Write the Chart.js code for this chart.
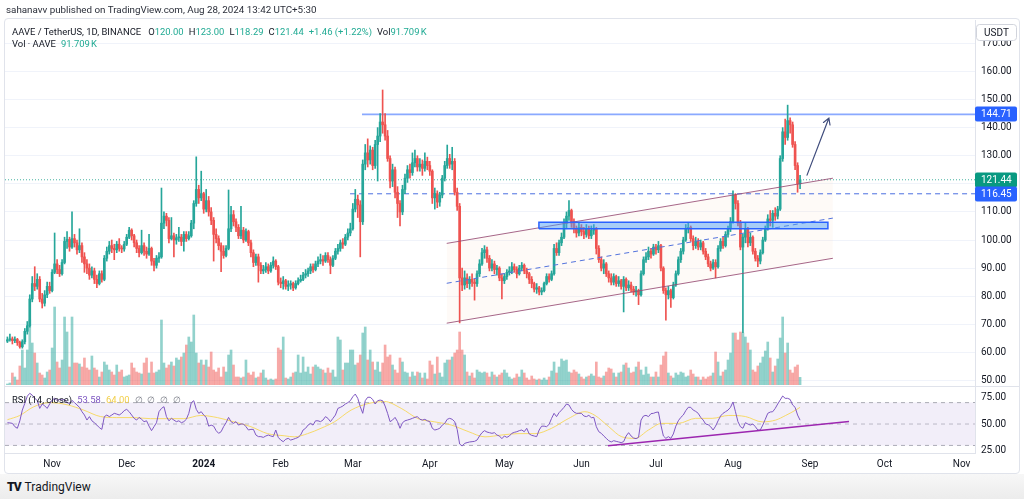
<!DOCTYPE html>
<html>
<head>
<meta charset="utf-8">
<script src="https://cdn.jsdelivr.net/npm/chart.js@4.4.0/dist/chart.umd.min.js"></script>
<style>
  html, body { margin: 0; padding: 0; background: #fff; width: 1024px; height: 499px; overflow: hidden; }
  body { font-family: "Roboto", "Liberation Sans", sans-serif; color: #131722; position: relative; }
  #frame { position: absolute; left: 4px; top: 18px; width: 1016px; height: 456px; border: 1px solid #e0e3eb; border-radius: 4px; box-sizing: border-box; }
  #sep { position: absolute; left: 4px; top: 386px; width: 1016px; height: 1px; background: #e0e3eb; }
  canvas { position: absolute; left: 0; }
  #priceCanvas { top: 0; }
  #rsiCanvas { top: 386px; }
  .t { position: absolute; white-space: nowrap; font-size: 9.45px; line-height: 13px; }
  .v { color: #22ab94; }
  .g { display: inline-block; width: 5px; }
  #footer { position: absolute; left: 0; top: 474px; width: 1024px; height: 25px; background: linear-gradient(#f7f7f7, #ececec); }
  #logo { position: absolute; left: 7px; top: 6px; font-size: 12px; color: #131722; white-space: nowrap; }
  #logo b { font-weight: 900; letter-spacing: -1px; margin-right: 4px; }
</style>
</head>
<body>
<div id="frame"></div>
<canvas id="priceCanvas" width="1024" height="386"></canvas>
<canvas id="rsiCanvas" width="1024" height="87"></canvas>
<div id="sep"></div>

<div class="t" style="left:6px;top:3px;color:#2a2e39;font-size:9.8px">sahanavv published on TradingView.com, Aug 28, 2024 13:42 UTC+5:30</div>
<div class="t" style="left:12px;top:25px">AAVE / TetherUS, 1D, BINANCE<span class="g" style="width:7px"></span>O<span class="v">120.00</span><span class="g"></span>H<span class="v">123.00</span><span class="g"></span>L<span class="v">118.29</span><span class="g"></span>C<span class="v">121.44</span><span class="g"></span><span class="v">+1.46 (+1.22%)</span><span class="g"></span>Vol<span class="v">91.709&#8239;K</span></div>
<div class="t" style="left:12px;top:37px">Vol · AAVE<span class="g"></span><span class="v">91.709&#8239;K</span></div>
<div class="t" style="left:12px;top:393px">RSI (14, close)<span class="g"></span><span style="color:#7e57c2">53.58</span><span class="g"></span><span style="color:#f2cf4a">64.00</span><span class="g"></span><span style="color:#787b86">∅&nbsp;&nbsp;∅&nbsp;&nbsp;∅&nbsp;&nbsp;∅</span></div>

<div id="footer"><div id="logo"><b>TV</b>TradingView</div></div>

<script>
// AAVE/USDT daily candles, first candle on 14 Oct 2023, last on 28 Aug 2024
const startDate = '2023-10-14';
const firstOpen = 64.0;

const closes = [
  64.5, 64.8, 64.2, 64.6, 63.5, 62.0, 63.8, 67.5, 69.5, 79.0,          // 0
  84.5, 83.5, 86.0, 79.0, 77.5, 80.5, 83.5, 82.0, 88.5, 91.5,          // 10
  89.5, 88.0, 92.0, 99.5, 100.2, 97.5, 100.5, 99.0, 96.5, 98.0,        // 20
  94.0, 91.5, 90.0, 87.5, 89.0, 86.0, 84.5, 88.0, 86.0, 93.5,          // 30
  96.0, 98.0, 97.0, 96.5, 98.5, 97.0, 96.8, 98.5, 101.0, 103.5,        // 40
  101.5, 99.0, 97.0, 95.5, 98.0, 96.0, 95.0, 97.0, 92.5, 91.0,         // 50
  93.5, 94.0, 106.0, 108.5, 107.0, 100.5, 101.5, 100.0, 100.8, 101.0,  // 60
  99.5, 102.0, 100.5, 101.5, 106.0, 113.0, 118.0, 115.0, 116.5, 111.0, // 70
  114.0, 110.0, 107.0, 102.0, 100.5, 98.0, 96.0, 94.5, 97.0, 104.0,    // 80
  109.0, 106.5, 104.5, 101.5, 103.5, 100.0, 103.0, 99.0, 95.5, 92.0,   // 90
  94.0, 91.0, 89.0, 89.5, 90.5, 89.0, 91.0, 92.5, 90.5, 85.0,          // 100
  84.5, 85.5, 83.5, 84.0, 84.5, 83.0, 84.5, 85.5, 86.0, 87.5,          // 110
  88.0, 89.0, 90.5, 89.5, 91.5, 92.5, 93.0, 92.5, 94.5, 93.0,          // 120
  91.0, 93.5, 96.0, 97.0, 99.0, 98.5, 101.0, 102.5, 104.0, 111.0,      // 130
  114.5, 112.5, 106.5, 127.0, 131.0, 128.5, 132.0, 126.5, 134.0, 137.0,// 140
  142.0, 141.0, 137.0, 129.0, 121.0, 125.0, 117.0, 113.0, 110.0, 118.0,// 150
  122.0, 125.0, 124.0, 127.5, 129.0, 126.0, 127.0, 125.5, 128.0, 126.5,// 160
  124.5, 115.0, 116.5, 113.5, 116.0, 122.0, 126.5, 129.0, 127.0, 128.0,// 170
  117.0, 112.0, 86.5, 84.0, 86.5, 84.5, 86.0, 85.0, 84.5, 88.0,        // 180
  91.5, 95.5, 96.5, 93.5, 90.0, 91.5, 89.5, 90.0, 86.5, 85.5,          // 190
  87.0, 88.5, 89.0, 90.5, 89.5, 88.0, 90.0, 91.0, 89.0, 88.0,          // 200
  86.0, 84.5, 82.5, 83.0, 81.5, 82.0, 84.5, 87.0, 86.0, 88.0,          // 210
  97.0, 95.5, 99.0, 101.0, 106.0, 108.5, 110.5, 106.0, 104.0, 102.5,   // 220
  104.5, 103.0, 102.0, 104.0, 101.5, 103.5, 104.0, 97.0, 93.0, 90.0,   // 230
  91.5, 88.0, 86.5, 85.0, 87.0, 84.5, 85.5, 83.5, 86.0, 83.0,          // 240
  84.0, 82.5, 81.5, 82.0, 80.5, 88.0, 93.0, 94.0, 96.0, 95.0,          // 250
  97.5, 96.5, 98.0, 90.0, 82.0, 80.5, 82.0, 79.5, 84.0, 88.0,          // 260
  93.0, 96.0, 100.0, 104.0, 104.5, 100.5, 98.0, 99.5, 97.5, 99.0,      // 270
  96.0, 94.0, 91.5, 90.0, 92.0, 90.5, 97.0, 99.5, 98.0, 102.0,         // 280
  104.0, 106.5, 116.0, 113.0, 106.0, 97.5, 101.0, 104.0, 99.0, 101.0,  // 290
  96.0, 93.5, 92.5, 95.5, 100.0, 104.0, 107.5, 107.0, 109.5, 108.5,    // 300
  111.0, 129.0, 138.5, 136.5, 142.5, 141.0, 134.0, 126.5, 120.0, 121.44// 310
];

const highs = [
  65.5, 66.5, 65.5, 65.5, 65.0, 64.0, 64.5, 68.5, 71.0, 80.5,
  87.0, 90.5, 88.0, 87.0, 81.0, 82.0, 85.0, 85.0, 89.5, 102.5,
  93.0, 91.0, 93.0, 101.0, 103.0, 101.0, 110.0, 102.0, 100.0, 104.0,
  99.0, 95.5, 93.0, 91.5, 90.5, 90.0, 87.5, 89.0, 89.0, 94.5,
  97.5, 99.5, 100.0, 98.5, 99.5, 100.5, 98.0, 99.5, 102.0, 104.5,
  104.0, 102.0, 100.0, 98.0, 103.5, 99.0, 97.5, 102.0, 97.5, 93.5,
  94.5, 95.5, 118.5, 110.0, 109.5, 108.0, 108.0, 102.5, 102.0, 104.5,
  102.0, 103.0, 103.0, 103.0, 107.0, 114.0, 129.6, 119.5, 124.5, 117.0,
  118.0, 115.5, 111.5, 108.0, 104.0, 101.5, 99.0, 98.0, 98.0, 117.8,
  112.0, 110.5, 107.5, 105.5, 112.0, 104.5, 104.0, 103.5, 100.0, 96.5,
  95.0, 95.0, 92.0, 91.0, 92.0, 91.5, 92.0, 94.0, 93.0, 91.0,
  86.5, 87.0, 86.0, 85.5, 85.5, 85.0, 85.5, 86.5, 87.5, 88.5,
  89.5, 90.0, 91.5, 91.5, 92.5, 94.0, 95.0, 94.5, 95.5, 95.5,
  94.0, 94.5, 97.0, 98.5, 100.0, 100.5, 102.0, 104.0, 106.0, 113.0,
  118.0, 116.0, 114.0, 128.5, 134.0, 136.0, 133.5, 133.0, 135.5, 140.0,
  145.0, 153.4, 145.0, 139.0, 130.0, 127.0, 126.0, 119.0, 114.0, 119.5,
  123.5, 126.5, 127.0, 131.0, 132.0, 130.0, 129.0, 128.5, 131.0, 129.5,
  128.0, 125.0, 118.5, 117.5, 117.0, 123.0, 128.0, 133.8, 130.5, 133.0,
  129.0, 118.5, 113.0, 90.0, 89.0, 88.0, 87.0, 88.0, 86.0, 89.0,
  93.0, 97.0, 98.0, 97.5, 94.5, 93.0, 92.5, 91.0, 90.5, 88.0,
  88.0, 89.5, 90.5, 92.0, 91.5, 90.5, 91.0, 92.0, 91.5, 90.0,
  88.5, 87.0, 85.0, 84.5, 83.5, 83.0, 85.0, 88.0, 88.0, 89.0,
  98.5, 99.0, 100.0, 102.5, 107.5, 110.0, 114.0, 111.0, 107.5, 105.0,
  106.0, 105.5, 104.5, 105.5, 105.0, 105.0, 105.5, 104.5, 98.0, 94.0,
  93.0, 92.0, 89.0, 88.0, 88.0, 87.5, 87.0, 86.0, 87.0, 86.5,
  85.5, 85.0, 83.5, 83.5, 82.5, 89.0, 94.0, 95.5, 97.5, 97.0,
  98.5, 98.5, 99.5, 98.5, 90.5, 83.0, 83.5, 82.5, 85.0, 89.0,
  94.0, 97.0, 101.0, 105.5, 106.0, 105.0, 101.5, 101.0, 100.5, 100.0,
  99.5, 97.0, 95.0, 92.5, 93.0, 93.0, 98.0, 100.5, 101.0, 103.0,
  105.0, 108.0, 117.5, 116.5, 114.0, 107.0, 102.0, 106.0, 104.5, 102.5,
  101.5, 97.0, 94.5, 96.5, 101.0, 105.0, 109.0, 110.5, 110.5, 111.5,
  112.0, 130.0, 140.0, 143.0, 148.0, 143.5, 142.0, 135.0, 127.5, 123.0
];

const lows = [
  63.5, 64.0, 63.0, 63.5, 62.5, 61.5, 61.5, 63.0, 66.5, 69.0,
  78.0, 82.0, 82.5, 78.0, 75.8, 76.5, 79.5, 81.0, 81.5, 88.0,
  88.0, 87.0, 87.5, 91.5, 97.0, 96.0, 97.0, 97.5, 95.0, 95.5,
  92.0, 88.5, 88.0, 86.0, 86.5, 84.5, 83.0, 84.0, 85.0, 85.5,
  92.5, 95.0, 95.5, 93.0, 95.5, 96.0, 95.5, 96.0, 98.0, 100.5,
  100.0, 97.5, 95.5, 94.0, 95.0, 94.5, 93.5, 94.5, 91.0, 89.0,
  90.0, 92.0, 93.5, 104.0, 105.0, 99.0, 100.0, 94.0, 98.5, 99.5,
  98.0, 96.0, 99.5, 100.0, 101.0, 104.0, 112.0, 113.0, 114.0, 109.5,
  110.0, 108.5, 105.5, 92.5, 99.0, 96.5, 88.7, 93.5, 94.0, 96.5,
  103.0, 105.0, 103.0, 100.5, 100.5, 99.0, 99.5, 98.0, 94.0, 90.5,
  91.0, 85.0, 88.0, 88.0, 88.5, 88.0, 88.5, 90.0, 89.5, 84.0,
  83.0, 82.5, 82.5, 82.0, 82.5, 82.0, 82.5, 84.0, 85.0, 85.5,
  86.5, 87.0, 88.0, 88.5, 89.0, 90.5, 91.5, 91.0, 92.0, 92.0,
  88.0, 90.5, 93.0, 95.0, 96.0, 97.0, 98.0, 100.0, 101.5, 103.5,
  110.0, 108.0, 94.0, 105.5, 125.0, 126.0, 127.0, 125.0, 125.5, 121.0,
  135.0, 138.0, 135.5, 128.0, 118.5, 119.0, 115.0, 108.0, 105.0, 109.0,
  116.5, 120.5, 122.0, 123.0, 126.0, 124.5, 124.5, 123.0, 124.5, 125.0,
  123.0, 113.0, 111.0, 111.5, 112.0, 115.0, 121.0, 125.5, 125.5, 125.0,
  116.0, 110.5, 70.5, 82.0, 82.5, 83.0, 82.5, 83.5, 78.6, 83.5,
  87.0, 91.0, 93.5, 92.0, 89.0, 89.0, 88.0, 87.5, 85.5, 79.0,
  84.5, 86.0, 87.5, 88.0, 88.5, 86.5, 87.5, 89.0, 88.0, 86.5,
  84.5, 83.0, 81.5, 81.0, 80.5, 80.5, 81.5, 84.0, 85.0, 85.5,
  87.5, 94.5, 94.5, 98.0, 100.5, 104.0, 107.0, 104.5, 102.5, 101.0,
  101.5, 101.5, 100.5, 101.0, 100.5, 100.5, 102.0, 95.0, 92.0, 89.0,
  88.0, 87.0, 85.0, 84.0, 84.0, 83.5, 83.5, 82.5, 74.4, 82.0,
  82.0, 81.5, 80.5, 80.0, 77.0, 80.0, 87.5, 92.0, 93.0, 93.5,
  94.5, 95.0, 95.5, 89.0, 81.0, 71.5, 79.0, 76.0, 79.0, 83.5,
  87.5, 92.0, 95.0, 99.5, 102.5, 99.5, 96.5, 97.0, 96.5, 96.5,
  95.0, 93.0, 90.5, 89.0, 89.5, 86.5, 90.0, 96.0, 97.0, 97.5,
  101.0, 103.0, 106.0, 111.0, 105.0, 96.5, 67.0, 99.0, 97.5, 98.0,
  95.0, 92.5, 90.5, 91.5, 95.0, 99.5, 103.5, 105.0, 104.5, 107.0,
  107.5, 110.5, 128.0, 134.0, 135.5, 138.0, 133.0, 125.0, 117.0, 118.29
];

// volume, thousands of AAVE
const volumesK = [
  12, 24, 144, 96, 60, 228, 420, 204, 420, 780,
  504, 384, 264, 144, 120, 84, 156, 180, 444, 936,
  276, 204, 300, 816, 636, 216, 816, 264, 264, 252,
  216, 324, 204, 180, 348, 204, 180, 96, 156, 276,
  240, 180, 156, 120, 240, 156, 180, 96, 108, 120,
  264, 204, 156, 144, 132, 264, 324, 144, 276, 144,
  156, 180, 780, 264, 204, 240, 276, 228, 324, 300,
  336, 384, 480, 576, 516, 840, 384, 264, 300, 240,
  300, 216, 396, 180, 156, 204, 96, 216, 156, 360,
  420, 240, 96, 96, 84, 96, 300, 144, 120, 156,
  84, 96, 144, 180, 84, 60, 72, 60, 72, 444,
  420, 576, 84, 72, 96, 144, 156, 360, 144, 336,
  156, 216, 132, 216, 240, 216, 192, 180, 144, 204,
  144, 180, 96, 576, 540, 180, 264, 264, 420, 420,
  240, 264, 360, 624, 696, 300, 420, 276, 180, 276,
  156, 264, 480, 336, 360, 240, 180, 144, 324, 276,
  156, 144, 96, 156, 108, 156, 144, 84, 144, 72,
  288, 240, 132, 336, 144, 96, 264, 300, 300, 336,
  384, 420, 636, 420, 360, 156, 108, 144, 84, 180,
  156, 144, 156, 144, 96, 156, 120, 96, 120, 144,
  180, 144, 96, 72, 84, 132, 96, 180, 144, 84,
  60, 108, 72, 60, 72, 60, 84, 60, 96, 168,
  276, 144, 216, 312, 288, 300, 156, 144, 180, 156,
  132, 96, 72, 96, 108, 132, 108, 276, 96, 84,
  108, 156, 204, 192, 144, 96, 144, 156, 240, 264,
  204, 144, 156, 216, 276, 180, 120, 216, 132, 96,
  96, 156, 96, 240, 348, 396, 144, 108, 84, 144,
  120, 156, 144, 96, 108, 180, 132, 96, 96, 60,
  96, 72, 96, 108, 144, 396, 276, 108, 156, 180,
  300, 384, 624, 624, 540, 636, 624, 576, 504, 420,
  180, 156, 228, 264, 336, 408, 516, 324, 156, 228,
  312, 564, 816, 384, 504, 180, 144, 216, 240, 91.709
];

// RSI(14, close), one value per candle
const rsiValues = [
  51.2, 51, 50.6, 47.5, 46, 53, 63, 69.3, 76, 78.7,
  77, 74, 72, 64.6, 68.7, 67, 64.6, 68.7, 72.4, 74,
  72, 73, 72.4, 73, 70, 69.3, 72, 70, 67.8, 65.6,
  61.5, 58.4, 53.7, 56.9, 53, 51.2, 49, 46.6, 45, 56.9,
  58.4, 56.9, 58.4, 60, 59.3, 58.4, 60, 62.5, 63.7, 61.5,
  58.4, 55.3, 53.7, 56.2, 54.4, 52.2, 53, 48, 43.8, 47.5,
  51.2, 61.5, 64.6, 66.2, 56.9, 53, 55.3, 53.7, 52.2, 53,
  51.2, 52.2, 54.4, 60, 70, 71.8, 63.7, 60, 61.5, 58.4,
  56.2, 48, 49, 48, 43.8, 41.3, 42.8, 47.5, 51.2, 56.2,
  52.2, 50.6, 52.2, 49, 50, 50, 47.5, 44.4, 45, 45,
  39.7, 38.2, 38.2, 37.5, 38.8, 39.7, 38.8, 38.2, 44.4, 37.5,
  35, 33.5, 35.7, 36.6, 35, 35.7, 36.6, 37.5, 39.7, 44.4,
  46, 49, 50.6, 49, 53, 53, 52.2, 53.7, 56.9, 55.3,
  52.2, 55.3, 58.4, 64.6, 65.6, 66.8, 68.7, 70, 71.8, 75.5,
  78, 74, 66.2, 60, 71.8, 75, 75, 73, 68.7, 71.8,
  72.4, 71.8, 66.8, 60, 52.2, 53.7, 56.2, 52.2, 46, 51.2,
  53, 53.7, 54.4, 55.3, 56.2, 56.9, 54.4, 53.7, 54.4, 53,
  52.2, 46, 44.4, 45, 46, 49, 50.6, 54.4, 55.3, 54.4,
  52.2, 45, 31.3, 29.4, 31.9, 32.6, 33.2, 33.5, 33.8, 35,
  38.8, 41.9, 43.8, 42.5, 41.9, 41.3, 41.9, 39.7, 38.8, 36.3,
  38.8, 37.5, 38.8, 41.3, 42.2, 42.8, 43.8, 44.4, 42.8, 46,
  40.7, 39.4, 38.8, 38.2, 44.4, 48, 48, 47.5, 49.7, 55.3,
  60, 56.9, 60.6, 63, 65.6, 68.7, 67.8, 63.7, 61.2, 60,
  60, 60, 57.5, 56.9, 58.1, 55.9, 56.2, 47.5, 42.8, 41.3,
  38.8, 36.6, 34.4, 33.2, 34.4, 33.8, 33.2, 32.6, 33.5, 38.8,
  41.9, 38.8, 36.9, 36.3, 37.5, 53.7, 57.5, 58.1, 56.9, 59.7,
  60, 60.9, 61.2, 49, 38.8, 36.6, 38.2, 36.6, 40.7, 48,
  53, 56.2, 58.4, 62.5, 65.6, 65.6, 63, 61.8, 60, 56.2,
  53.7, 50, 49.4, 47.5, 44.4, 48, 53, 57.5, 60, 61.5,
  63, 65.6, 70.6, 61.5, 52.2, 47.5, 46, 51.2, 50, 49,
  50, 47.5, 44.4, 44.4, 49, 54.4, 60, 61.2, 61.5, 64.6,
  68.7, 72.4, 76.2, 74, 74, 73, 67.8, 65.6, 58.4, 53.58
];

// RSI-based moving average, read at these candle positions
const rsiMaDays = [0, 5, 10.5, 17, 24, 30.7, 37.4, 44, 51, 57.6, 64.3, 71, 77.8, 84.5, 91.2, 98,
  104.7, 111.4, 115.5, 120.8, 126.2, 131.6, 138.3, 145, 151.8, 158.5, 165.3, 172, 178.7, 185.4,
  192.2, 198.9, 205.5, 212.3, 219, 225.7, 232.4, 236.5, 242, 247.3, 252.6, 258, 263.4, 270, 277,
  283.6, 290.3, 297, 303.8, 309.2, 313.2, 317.2, 319];
const rsiMaValues = [54, 58, 66, 70, 68, 63, 57, 56, 56, 55, 55, 55, 58, 56, 52, 47.5,
  41, 39, 38, 41, 46, 52, 63, 69, 71, 64.6, 55, 52, 49, 43,
  38, 39.7, 41, 41, 46, 55, 61.5, 58, 47.5, 38, 36.6, 44.4, 50.6, 50.6, 55.3,
  55.3, 58, 57, 52, 53.7, 58, 63, 65.6];

const monthTickDates = ['2023-11-01', '2023-12-01', '2024-01-01', '2024-02-01', '2024-03-01', '2024-04-01',
  '2024-05-01', '2024-06-01', '2024-07-01', '2024-08-01', '2024-09-01', '2024-10-01', '2024-11-01'];
const monthTickLabels = ['Nov', 'Dec', '2024', 'Feb', 'Mar', 'Apr', 'May', 'Jun', 'Jul', 'Aug', 'Sep', 'Oct', 'Nov'];
const priceTicks = [50, 60, 70, 80, 90, 100, 110, 120, 130, 140, 150, 160, 170];
const rsiTicks = [25, 50, 75];
const rsiLevels = [70, 50, 30];

// drawings on the chart (candle position, price)
const lastPrice = 121.44;
const resistance = { day: 142.7, price: 144.71 };
const support = { day: 137.9, price: 116.45 };
const markerLevels = [144.71, 121.44, 116.45];
const channelDays = [176.8, 332.2];
const channelUpper = [98.8, 122.0];
const channelMid = [84.6, 107.8];
const channelLower = [70.4, 93.5];
const zoneDays = [213.9, 330.2];
const zoneRange = [104.0, 106.3];
const arrowDays = [321.8, 330.6];
const arrowPrices = [123.1, 143.4];
const rsiTrendDays = [241.7, 338.7];
const rsiTrendValues = [29.7, 52.4];

// ---- view settings ----
const X_MIN = -0.97, X_MAX = 389.4;
const FONT = '"Roboto", "Liberation Sans", sans-serif';
const UP = '#26a69a', DOWN = '#ef5350';

function dayIndex(d) {
    return (Date.parse(d) - Date.parse(startDate)) / 86400000;
}

const opens = closes.map((c, i) => i === 0 ? firstOpen : closes[i - 1]);
const isUp = closes.map((c, i) => c >= opens[i]);
const candleColors = isUp.map(u => u ? UP : DOWN);
const volumeColors = isUp.map(u => u ? 'rgba(38,166,154,0.5)' : 'rgba(239,83,80,0.5)');

const bodies = closes.map((c, i) => ({ x: i, y: [opens[i], c] }));
const wicks = closes.map((c, i) => ({ x: i, y: [Math.min(lows[i], opens[i], c), Math.max(highs[i], opens[i], c)] }));
const volumes = volumesK.map((v, i) => ({ x: i, y: v }));

function seg(days, values) {
    return days.map((d, k) => ({ x: d, y: values[k] }));
}

function line(points, opts) {
    return Object.assign({
        type: 'line', data: points, pointRadius: 0, borderWidth: 1,
        tension: 0, fill: false, xAxisID: 'x', yAxisID: 'y'
    }, opts);
}

// right axis: fixed width, no extra room reserved for the end labels
function fitRightAxis(s) {
    s.width = 45;
    s.paddingTop = 0;
    s.paddingBottom = 0;
}

// price labels on the right axis and the currency box
const axisBoxes = {
    id: 'axisBoxes',
    afterDraw(chart) {
        const ctx = chart.ctx;
        const ys = chart.scales.y;
        const left = ys.left;
        const colors = ['#2962ff', '#089981', '#2962ff'];
        ctx.save();
        ctx.font = '10px ' + FONT;
        ctx.textBaseline = 'middle';
        markerLevels.forEach((v, k) => {
            const y = Math.round(ys.getPixelForValue(v));
            ctx.fillStyle = colors[k];
            ctx.beginPath();
            ctx.roundRect(left, y - 7.5, 42, 15, 2);
            ctx.fill();
            ctx.fillStyle = '#fff';
            ctx.fillText(v.toFixed(2), left + 6, y + 0.5);
        });
        ctx.fillStyle = '#fff';
        ctx.strokeStyle = '#d1d4dc';
        ctx.beginPath();
        ctx.roundRect(left + 1.5, 24.5, 40, 16, 3);
        ctx.fill();
        ctx.stroke();
        ctx.fillStyle = '#131722';
        ctx.textAlign = 'center';
        ctx.fillText('USDT', left + 21.5, 33);
        ctx.restore();
    }
};

// the projected move arrow
const arrowPlugin = {
    id: 'arrow',
    afterDatasetsDraw(chart) {
        const { ctx, scales: { x, y } } = chart;
        const x0 = x.getPixelForValue(arrowDays[0]), y0 = y.getPixelForValue(arrowPrices[0]);
        const x1 = x.getPixelForValue(arrowDays[1]), y1 = y.getPixelForValue(arrowPrices[1]);
        const a = Math.atan2(y1 - y0, x1 - x0), len = 7, spread = Math.PI / 6;
        ctx.save();
        ctx.strokeStyle = '#3f4c7c';
        ctx.lineWidth = 1.2;
        ctx.lineCap = 'round';
        ctx.beginPath();
        ctx.moveTo(x0, y0);
        ctx.lineTo(x1, y1);
        ctx.moveTo(x1 - len * Math.cos(a - spread), y1 - len * Math.sin(a - spread));
        ctx.lineTo(x1, y1);
        ctx.lineTo(x1 - len * Math.cos(a + spread), y1 - len * Math.sin(a + spread));
        ctx.stroke();
        ctx.restore();
    }
};

const zoneOutline = [
    { x: zoneDays[0], y: zoneRange[0] }, { x: zoneDays[0], y: zoneRange[1] },
    { x: zoneDays[1], y: zoneRange[1] }, { x: zoneDays[1], y: zoneRange[0] },
    { x: zoneDays[0], y: zoneRange[0] }
];

new Chart(document.getElementById('priceCanvas'), {
    type: 'bar',
    data: {
        datasets: [
            line(seg(channelDays, channelUpper), { borderWidth: 0, fill: '+1', backgroundColor: 'rgba(245,215,190,0.13)', order: 30 }),
            line(seg(channelDays, channelLower), { borderWidth: 0, order: 30 }),
            { type: 'bar', data: volumes, yAxisID: 'yVol', xAxisID: 'x', backgroundColor: volumeColors,
              barThickness: 2, grouped: false, borderWidth: 0, order: 25 },
            line(seg([X_MIN, X_MAX], [lastPrice, lastPrice]), { borderColor: 'rgba(8,153,129,0.75)', borderDash: [1, 2], order: 20 }),
            line(seg([support.day, X_MAX], [support.price, support.price]), { borderColor: '#4a6ee0', borderDash: [5, 4], order: 20 }),
            line(seg([resistance.day, X_MAX], [resistance.price, resistance.price]), { borderColor: 'rgba(41,98,255,0.55)', borderWidth: 1.6, order: 20 }),
            { type: 'bar', data: wicks, yAxisID: 'y', xAxisID: 'x', backgroundColor: candleColors,
              barThickness: 1, grouped: false, borderWidth: 0, order: 11 },
            { type: 'bar', data: bodies, yAxisID: 'y', xAxisID: 'x', backgroundColor: candleColors,
              barThickness: 2, minBarLength: 1, grouped: false, borderWidth: 0, order: 10 },
            line(seg(channelDays, channelUpper), { borderColor: 'rgba(150,75,115,0.85)', order: 3 }),
            line(seg(channelDays, channelLower), { borderColor: 'rgba(150,75,115,0.85)', order: 3 }),
            line(seg(channelDays, channelMid), { borderColor: '#5272dc', borderDash: [5, 4], order: 3 }),
            line(seg(zoneDays, [zoneRange[1], zoneRange[1]]), { borderWidth: 0, fill: '+1', backgroundColor: 'rgba(80,160,245,0.5)', order: 2 }),
            line(seg(zoneDays, [zoneRange[0], zoneRange[0]]), { borderWidth: 0, order: 2 }),
            line(zoneOutline, { borderColor: '#2962ff', borderWidth: 1.5, order: 1 })
        ]
    },
    options: {
        responsive: false,
        animation: false,
        devicePixelRatio: 1,
        events: [],
        layout: { autoPadding: false, padding: { left: 5, right: 4, top: 20, bottom: 1 } },
        plugins: { legend: { display: false }, tooltip: { enabled: false } },
        scales: {
            x: { type: 'linear', min: X_MIN, max: X_MAX, display: false, offset: false },
            y: {
                position: 'right',
                min: 48.4, max: 178.3,
                afterFit: fitRightAxis,
                afterBuildTicks: s => { s.ticks = priceTicks.map(v => ({ value: v })); },
                grid: { color: '#f0f3fa', drawTicks: false },
                border: { display: true, color: '#e0e3eb' },
                ticks: { padding: 6, crossAlign: 'near', color: '#131722', font: { size: 10, family: FONT },
                         callback: v => v.toFixed(2) }
            },
            yVol: { display: false, min: 0, max: 4380 }
        }
    },
    plugins: [arrowPlugin, axisBoxes]
});

new Chart(document.getElementById('rsiCanvas'), {
    type: 'line',
    data: {
        datasets: [
            line(seg([X_MIN, X_MAX], [rsiLevels[0], rsiLevels[0]]), { borderColor: 'rgba(120,123,134,0.6)', borderDash: [4, 4], fill: '+1', backgroundColor: 'rgba(126,87,194,0.1)', order: 10 }),
            line(seg([X_MIN, X_MAX], [rsiLevels[2], rsiLevels[2]]), { borderColor: 'rgba(120,123,134,0.6)', borderDash: [4, 4], order: 10 }),
            line(seg([X_MIN, X_MAX], [rsiLevels[1], rsiLevels[1]]), { borderColor: 'rgba(120,123,134,0.45)', borderDash: [4, 4], order: 10 }),
            line(seg(rsiMaDays, rsiMaValues), { borderColor: 'rgba(247,214,80,0.85)', cubicInterpolationMode: 'monotone', order: 5 }),
            line(rsiValues.map((v, i) => ({ x: i, y: v })), { borderColor: '#7e57c2', order: 4 }),
            line(seg(rsiTrendDays, rsiTrendValues), { borderColor: '#9c27b0', borderWidth: 1.5, order: 3 })
        ]
    },
    options: {
        responsive: false,
        animation: false,
        devicePixelRatio: 1,
        events: [],
        layout: { autoPadding: false, padding: { left: 5, right: 4, top: 1, bottom: 0 } },
        plugins: { legend: { display: false }, tooltip: { enabled: false } },
        scales: {
            x: {
                type: 'linear', min: X_MIN, max: X_MAX, position: 'bottom', offset: false,
                afterFit: s => { s.height = 20; s.paddingLeft = 0; s.paddingRight = 0; },
                afterBuildTicks: s => { s.ticks = monthTickDates.map(d => ({ value: dayIndex(d) })); },
                grid: { display: false, drawTicks: false },
                border: { display: true, color: '#e0e3eb' },
                ticks: {
                    autoSkip: false, maxRotation: 0, padding: 5, color: '#131722',
                    font: c => ({ family: FONT, size: 10, weight: c.tick && c.tick.label === '2024' ? 'bold' : 'normal' }),
                    callback: (v, i) => monthTickLabels[i]
                }
            },
            y: {
                position: 'right',
                min: 22.9, max: 84.6,
                afterFit: fitRightAxis,
                afterBuildTicks: s => { s.ticks = rsiTicks.map(v => ({ value: v })); },
                grid: { display: false, drawTicks: false },
                border: { display: true, color: '#e0e3eb' },
                ticks: { padding: 6, crossAlign: 'near', color: '#131722', font: { size: 10, family: FONT },
                         callback: v => v.toFixed(2) }
            }
        }
    }
});
</script>
</body>
</html>
